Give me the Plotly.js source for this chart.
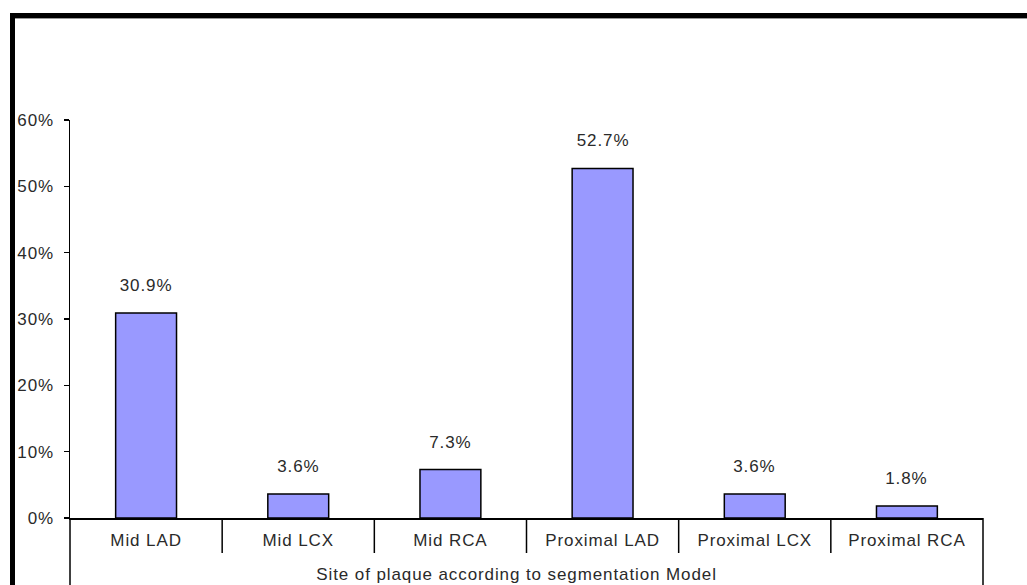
<!DOCTYPE html>
<html>
<head>
<meta charset="utf-8">
<script src="https://cdn.plot.ly/plotly-3.0.1.min.js"></script>
<style>html,body{margin:0;padding:0;background:#fff;}#chart{width:1027px;height:585px;}#chart text{letter-spacing:0.9px;}</style>
</head>
<body>
<div id="chart"></div>
<script>
// ---- data ----
const categories = ["Mid LAD", "Mid LCX", "Mid RCA", "Proximal LAD", "Proximal LCX", "Proximal RCA"];
const percentValues = [30.9, 3.6, 7.3, 52.7, 3.6, 1.8];
const yTickValues = [0, 10, 20, 30, 40, 50, 60];
const xAxisTitle = "Site of plaque according to segmentation Model";

// ---- layout geometry (pixels) ----
const W = 1027, H = 585;
const L = 70, R = 983, T = 120, B = 518;
const pw = R - L, ph = B - T;
const px = x => (x - L) / pw;      // pixel -> paper x
const py = y => (B - y) / ph;      // pixel -> paper y

const FONT = "Liberation Sans, Arial, sans-serif";
const TXT = "#2a2a2a";

const trace = {
  type: "bar",
  x: categories,
  y: percentValues,
  marker: { color: "#9999FF", line: { color: "#000", width: 1.5 } },
  hoverinfo: "skip"
};

const shapes = [];
// category separators below the axis
for (let i = 0; i < categories.length - 1; i++) {
  shapes.push({ type: "line", xref: "x", yref: "paper", x0: i + 0.5, x1: i + 0.5,
    y0: 0, y1: py(553), line: { color: "#000", width: 1.5 } });
}
// left and right edges of the label table
shapes.push({ type: "line", xref: "paper", yref: "paper", x0: 0, x1: 0, y0: 0, y1: py(640), line: { color: "#000", width: 1.5 } });
shapes.push({ type: "line", xref: "paper", yref: "paper", x0: 1, x1: 1, y0: 0, y1: py(640), line: { color: "#000", width: 1.5 } });
// outer thick frame (top & left visible)
shapes.push({ type: "line", xref: "paper", yref: "paper", x0: px(10), x1: px(1100), y0: py(18.5), y1: py(18.5), line: { color: "#999", width: 1 } });
shapes.push({ type: "rect", xref: "paper", yref: "paper", x0: px(12.5), x1: px(1100), y0: py(15.5), y1: py(700), line: { color: "#000", width: 5 } });

const annotations = categories.map((c, i) => ({
  x: c, y: percentValues[i], xref: "x", yref: "y",
  text: percentValues[i].toFixed(1) + "%", showarrow: false,
  yanchor: "bottom", yshift: 16,
  font: { family: FONT, size: 17, color: TXT }
}));
annotations.push({
  xref: "paper", yref: "paper", x: px(516), y: py(574), xanchor: "center", yanchor: "middle",
  text: xAxisTitle, showarrow: false, font: { family: FONT, size: 17, color: TXT }
});

const layout = {
  width: W, height: H,
  margin: { l: L, r: W - R, t: T, b: H - B, pad: 0 },
  paper_bgcolor: "#fff", plot_bgcolor: "#fff",
  showlegend: false,
  bargap: 0.6,
  font: { family: FONT, size: 17, color: TXT },
  xaxis: {
    type: "category",
    showline: true, linecolor: "#000", linewidth: 1.5,
    ticks: "", showgrid: false, zeroline: false,
    ticklabelstandoff: 6,
    tickfont: { family: FONT, size: 17, color: TXT },
    fixedrange: true
  },
  yaxis: {
    range: [0, 60], tickvals: yTickValues, ticktext: yTickValues.map(v => v + "%"),
    showline: true, linecolor: "#000", linewidth: 1.5,
    ticks: "outside", ticklen: 5, tickcolor: "#000", tickwidth: 1.5,
    ticklabelstandoff: 6,
    showgrid: false, zeroline: false,
    tickfont: { family: FONT, size: 17, color: TXT },
    fixedrange: true
  },
  shapes: shapes,
  annotations: annotations
};

Plotly.newPlot("chart", [trace], layout, { displayModeBar: false, staticPlot: true });
</script>
</body>
</html>
